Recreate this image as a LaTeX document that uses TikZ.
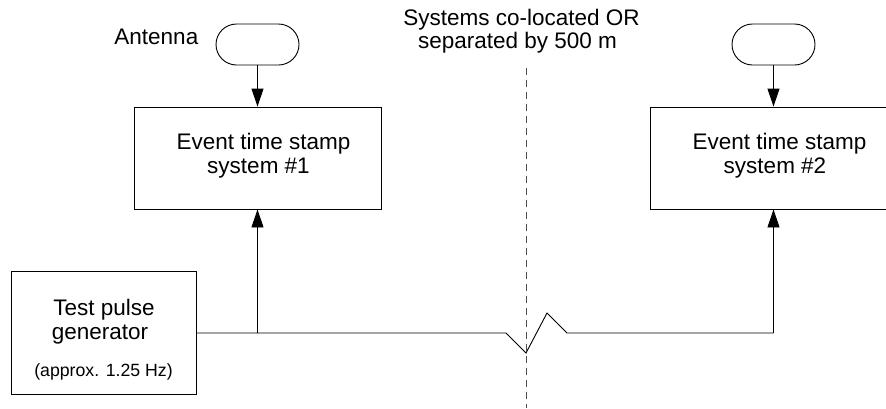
\documentclass[tikz,border=0pt]{standalone}
\usepackage{fontspec}
\setmainfont{Liberation Sans}
\usetikzlibrary{arrows.meta}

\begin{document}
\begin{tikzpicture}[x=1pt,y=-1pt,line width=0.9pt,
  box/.style={draw,inner sep=0pt},
  antennabox/.style={draw,inner sep=0pt,minimum width=83pt,minimum height=41pt,rounded corners=20.5pt},
  sig/.style={-{Triangle[length=18pt,width=12pt]}},
  divider/.style={draw=black!70,dash pattern=on 7pt off 5pt},
  big/.style={font=\fontsize{22.5}{24.5}\selectfont,inner sep=0pt,anchor=base},
  small/.style={font=\fontsize{17.7}{20}\selectfont,inner sep=0pt,anchor=base}]

\useasboundingbox (0,0) rectangle (886,408);

% antennas and time stamp systems
\node[antennabox] (ant1) at (257.5,44.5) {};
\node[antennabox] (ant2) at (773.5,44.5) {};
\node[box,minimum width=247pt,minimum height=102pt] (sys1) at (257.5,158) {};
\node[box,minimum width=247pt,minimum height=102pt] (sys2) at (773.5,158) {};

% pulse generator
\node[box,minimum width=185pt,minimum height=123pt] (gen) at (103.5,333) {};

% labels
\node[big,anchor=base west] (antlbl) at (114,44) {Antenna};
\node[big] (s1a) at (263.5,149) {Event time stamp};
\node[big] (s1b) at (258.5,173) {system \#1};
\node[big] (s2a) at (779.5,149) {Event time stamp};
\node[big] (s2b) at (775,173) {system \#2};
\node[big] (g1) at (104,315) {Test pulse};
\node[big] (g2) at (100,339) {generator};
\node[small] (g3) at (103.5,376) {(approx. 1.25 Hz)};
\node[big] (sepa) at (521.5,25) {Systems co-located OR};
\node[big] (sepb) at (517.5,48) {separated by 500 m};

% antenna feeds
\draw[sig] (ant1.south) -- (sys1.north);
\draw[sig] (ant2.south) -- (sys2.north);

% distribution line with break symbol
\coordinate (j1) at (sys1.south |- gen.east);
\coordinate (z1) at (506,333);
\coordinate (z2) at (526,353);
\coordinate (z3) at (547,313);
\coordinate (z4) at (567,333);
\coordinate (j2) at (sys2.south |- gen.east);
\draw (gen.east) -- (z1) -- (z2) -- (z3) -- (z4) -- (j2);
\draw[sig] (j1) -- (sys1.south);
\draw[sig] (j2) -- (sys2.south);

% separation line
\coordinate (dtop) at (526,68);
\coordinate (dbot) at (526,408);
\draw[divider,line width=1pt] (dtop) -- (dbot);
\end{tikzpicture}
\end{document}
